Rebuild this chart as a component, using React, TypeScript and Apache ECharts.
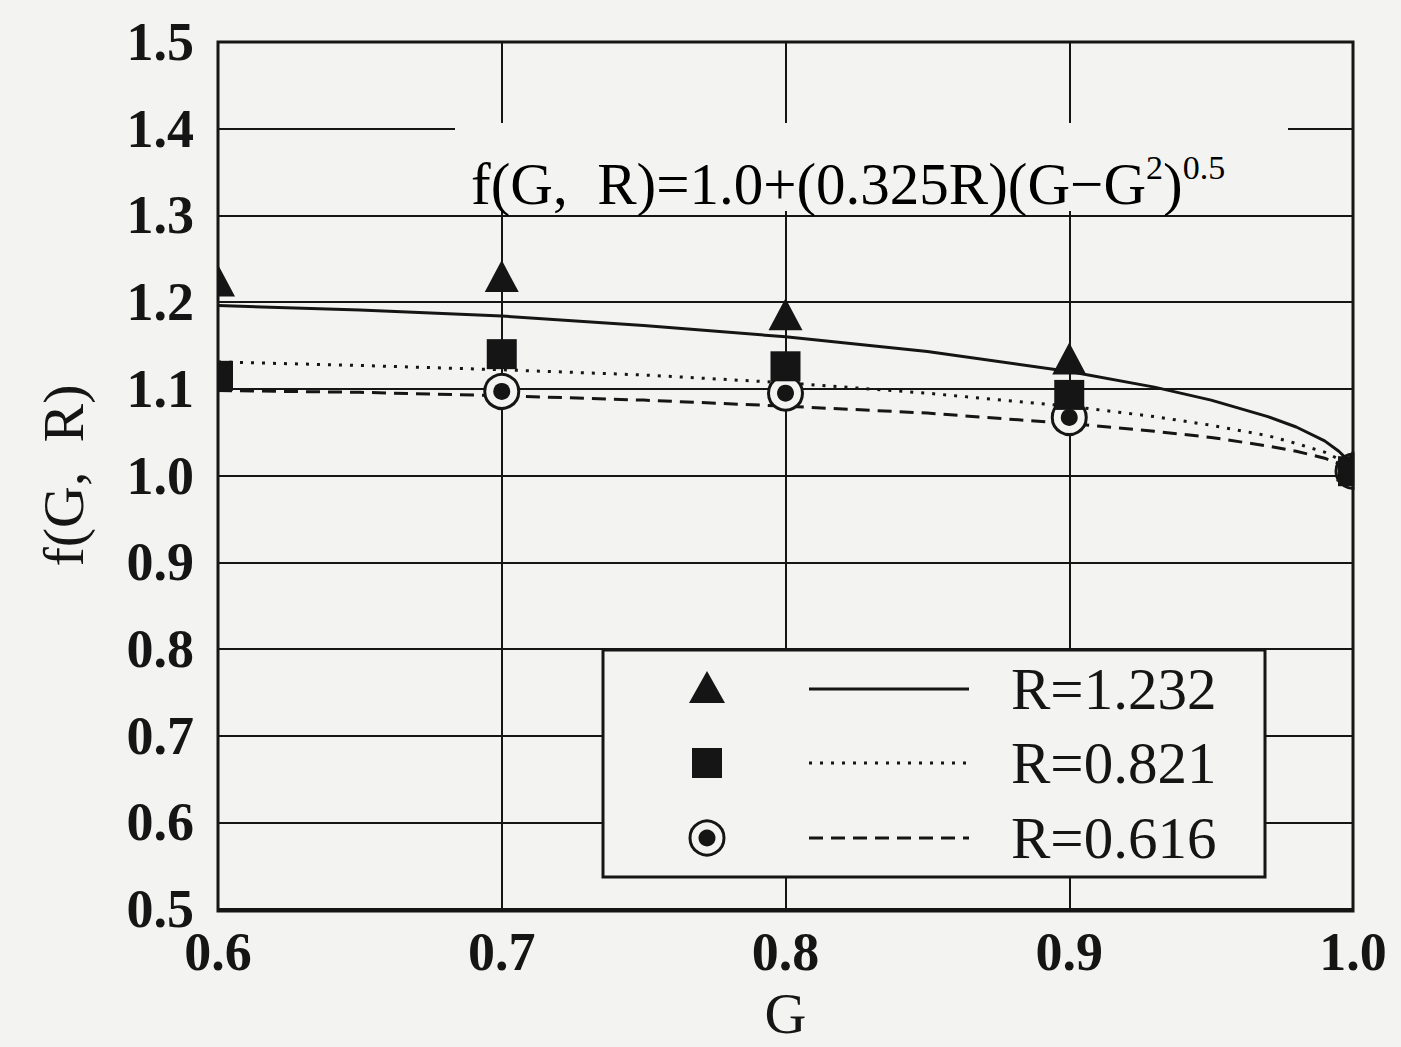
import React, { useEffect, useRef } from "react";
import * as echarts from "echarts";

// ---- data ----
const X_TICKS = [0.6, 0.7, 0.8, 0.9, 1.0];
const Y_TICKS = [0.5, 0.6, 0.7, 0.8, 0.9, 1.0, 1.1, 1.2, 1.3, 1.4, 1.5];

const G_CURVE = [0.6, 0.65, 0.7, 0.75, 0.8, 0.85, 0.9, 0.93, 0.95, 0.97, 0.98, 0.99, 0.995, 1.0];
const CURVE_R1232 = [1.196, 1.191, 1.184, 1.173, 1.16, 1.143, 1.12, 1.102, 1.087, 1.068, 1.056, 1.04, 1.028, 1.012];
const CURVE_R0821 = [1.131, 1.127, 1.122, 1.116, 1.107, 1.095, 1.08, 1.068, 1.058, 1.046, 1.037, 1.027, 1.019, 1.01];
const CURVE_R0616 = [1.098, 1.096, 1.092, 1.087, 1.08, 1.072, 1.06, 1.051, 1.044, 1.034, 1.028, 1.02, 1.014, 1.008];

const G_TRI = [0.6, 0.7, 0.8, 0.9, 1.0];
const PTS_TRI = [1.225, 1.23, 1.186, 1.135, 1.012];
const G_SQ = [0.6, 0.7, 0.8, 0.9, 1.0];
const PTS_SQ = [1.115, 1.14, 1.126, 1.093, 1.005];
const G_CIRC = [0.7, 0.8, 0.9, 1.0];
const PTS_CIRC = [1.097, 1.095, 1.067, 1.005];

const LEGEND_LABELS = ["R=1.232", "R=0.821", "R=0.616"];

const BG = "#f3f3f1";
const INK = "#151515";
const SERIF = "'Liberation Serif', 'DejaVu Serif', serif";

const pair = (xs: number[], ys: number[]) => xs.map((x, i) => [x, ys[i]]);

export default function App() {
  const ref = useRef<HTMLDivElement>(null);
  useEffect(() => {
    if (!ref.current) return;
    const chart = echarts.init(ref.current, null, { renderer: "svg" });
    const L = 218, T = 42, W = 1135, H = 869;
    const legendRows = [689, 763, 838];
    const option: any = {
      animation: false,
      backgroundColor: BG,
      grid: { left: L, top: T, width: W, height: H, containLabel: false },
      xAxis: {
        type: "value",
        min: 0.6,
        max: 1.0,
        interval: 0.1,
        name: "G",
        nameLocation: "middle",
        nameGap: 74,
        nameTextStyle: { fontFamily: SERIF, fontSize: 58, color: INK },
        axisLine: { show: false },
        axisTick: { show: false },
        axisLabel: {
          margin: 16,
          fontFamily: SERIF,
          fontWeight: "bold",
          fontSize: 54,
          color: INK,
          formatter: (v: number) => v.toFixed(1),
          customValues: X_TICKS,
        },
        splitLine: { show: true, lineStyle: { color: INK, width: 2 } },
      },
      yAxis: {
        type: "value",
        min: 0.5,
        max: 1.5,
        interval: 0.1,
        name: "f(G,  R)",
        nameLocation: "middle",
        nameGap: 126,
        nameRotate: 90,
        nameTextStyle: { fontFamily: SERIF, fontSize: 58, color: INK },
        axisLine: { show: false },
        axisTick: { show: false },
        axisLabel: {
          margin: 24,
          fontFamily: SERIF,
          fontWeight: "bold",
          fontSize: 54,
          color: INK,
          formatter: (v: number) => v.toFixed(1),
          customValues: Y_TICKS,
        },
        splitLine: { show: true, lineStyle: { color: INK, width: 2 } },
      },
      series: [
        {
          type: "line",
          data: pair(G_CURVE, CURVE_R1232),
          showSymbol: false,
          lineStyle: { color: INK, width: 3, type: "solid" },
          z: 3,
        },
        {
          type: "line",
          data: pair(G_CURVE, CURVE_R0821),
          showSymbol: false,
          lineStyle: { color: INK, width: 3, type: [3, 8] },
          z: 3,
        },
        {
          type: "line",
          data: pair(G_CURVE, CURVE_R0616),
          showSymbol: false,
          lineStyle: { color: INK, width: 3, type: [14, 8] },
          z: 3,
        },
        {
          type: "scatter",
          data: pair(G_CIRC, PTS_CIRC),
          symbol: "circle",
          symbolSize: 34,
          itemStyle: { color: BG, borderColor: INK, borderWidth: 3, opacity: 1 },
          clip: false,
          z: 4,
        },
        {
          type: "scatter",
          data: pair(G_CIRC, PTS_CIRC),
          symbol: "circle",
          symbolSize: 17,
          itemStyle: { color: INK, opacity: 1 },
          clip: false,
          z: 5,
        },
        {
          type: "scatter",
          data: pair(G_TRI, PTS_TRI),
          symbol: "triangle",
          symbolSize: [34, 32],
          itemStyle: { color: INK, opacity: 1 },
          clip: false,
          z: 6,
        },
        {
          type: "scatter",
          data: pair(G_SQ, PTS_SQ),
          symbol: "rect",
          symbolSize: [30, 30],
          itemStyle: { color: INK, opacity: 1 },
          clip: false,
          z: 7,
        },
      ],
      graphic: [
        // blank band behind the formula
        { type: "rect", z: 5, shape: { x: 455, y: 123, width: 833, height: 88 }, style: { fill: BG } },
        {
          type: "text",
          z: 6,
          x: 471,
          y: 150,
          style: {
            text: "{m|f(G,  R)=1.0+(0.325R)(G−G}{s|2}{m|)}{s|0.5}",
            rich: {
              m: { fontFamily: SERIF, fontSize: 59, color: INK, lineHeight: 68, verticalAlign: "middle" },
              s: { fontFamily: SERIF, fontSize: 34, color: INK, lineHeight: 68, verticalAlign: "top" },
            },
          },
        },
        // clip markers at the plot edges
        { type: "rect", z: 15, shape: { x: 197, y: 240, width: 20, height: 180 }, style: { fill: BG } },
        { type: "rect", z: 15, shape: { x: 1354.5, y: 420, width: 46, height: 100 }, style: { fill: BG } },
        // frame
        {
          type: "rect",
          z: 20,
          shape: { x: L, y: T, width: W, height: H },
          style: { fill: "none", stroke: INK, lineWidth: 3 },
        },
        // legend box
        {
          type: "rect",
          z: 30,
          shape: { x: 603, y: 650, width: 662, height: 227 },
          style: { fill: BG, stroke: INK, lineWidth: 3 },
        },
        {
          type: "polygon",
          z: 31,
          shape: { points: [[689, legendRows[0] + 14], [725, legendRows[0] + 14], [707, legendRows[0] - 18]] },
          style: { fill: INK },
        },
        { type: "rect", z: 31, shape: { x: 692, y: legendRows[1] - 15, width: 30, height: 30 }, style: { fill: INK } },
        { type: "circle", z: 31, shape: { cx: 707, cy: legendRows[2], r: 17 }, style: { fill: BG, stroke: INK, lineWidth: 3 } },
        { type: "circle", z: 32, shape: { cx: 707, cy: legendRows[2], r: 8.5 }, style: { fill: INK } },
        { type: "line", z: 31, shape: { x1: 809, y1: legendRows[0], x2: 969, y2: legendRows[0] }, style: { stroke: INK, lineWidth: 3 } },
        { type: "line", z: 31, shape: { x1: 809, y1: legendRows[1], x2: 969, y2: legendRows[1] }, style: { stroke: INK, lineWidth: 3, lineDash: [3, 8] } },
        { type: "line", z: 31, shape: { x1: 809, y1: legendRows[2], x2: 969, y2: legendRows[2] }, style: { stroke: INK, lineWidth: 3, lineDash: [14, 8] } },
        ...LEGEND_LABELS.map((t, i) => ({
          type: "text",
          z: 31,
          x: 1011,
          y: legendRows[i],
          style: { text: t, fontFamily: SERIF, fontSize: 59, fill: INK, verticalAlign: "middle", align: "left" },
        })),
      ],
    };
    chart.setOption(option);
    return () => chart.dispose();
  }, []);
  return (
    <div style={{ position: "absolute", left: 0, top: 0, width: 1401, height: 1047, background: BG }}>
      <div ref={ref} style={{ width: 1401, height: 1047 }} />
    </div>
  );
}
